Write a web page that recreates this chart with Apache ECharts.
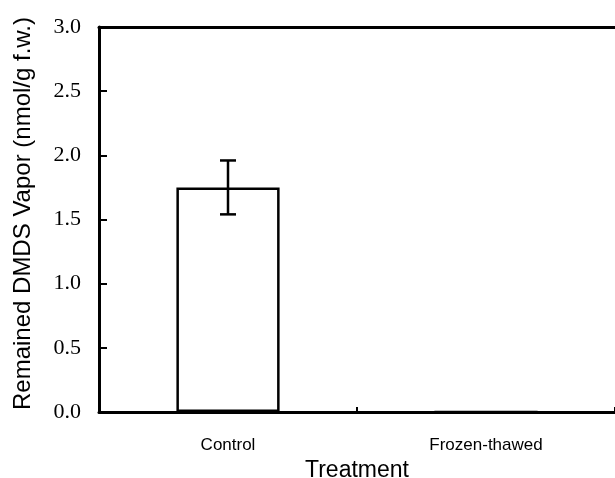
<!DOCTYPE html>
<html><head><meta charset="utf-8">
<script src="https://cdn.jsdelivr.net/npm/echarts@6/dist/echarts.min.js"></script>
<style>html,body{margin:0;padding:0;background:#fff}#c{width:615px;height:478px}</style>
</head><body><div id="c"></div>
<script>
const categories = ['Control', 'Frozen-thawed'];
const means = [1.75, 0];
const errors = [0.21, 0];
const yTicks = ['0.0','0.5','1.0','1.5','2.0','2.5','3.0'];

const chart = echarts.init(document.getElementById('c'), null, {renderer: 'canvas'});
const errData = categories.map((c, i) => [i, means[i] - errors[i], means[i] + errors[i]]).filter((d, i) => errors[i] > 0);

chart.setOption({
  animation: false,
  backgroundColor: '#fff',
  grid: {left: 99, right: 0, top: 27, bottom: 66, containLabel: false, outerBoundsMode: 'none'},
  xAxis: [{
    type: 'category', data: categories, position: 'bottom',
    axisLine: {lineStyle: {color: '#000', width: 3}},
    axisTick: {show: true, inside: true, length: 5, lineStyle: {color: '#000', width: 2}},
    axisLabel: {color: '#000', fontFamily: 'Liberation Sans', fontSize: 17, margin: 25},
    name: 'Treatment', nameLocation: 'middle', nameGap: 47,
    nameTextStyle: {color: '#000', fontFamily: 'Liberation Sans', fontSize: 23}
  }, {
    type: 'category', data: categories, position: 'top',
    axisLine: {lineStyle: {color: '#000', width: 3}},
    axisTick: {show: false}, axisLabel: {show: false}
  }],
  yAxis: {
    type: 'value', min: 0, max: 3, interval: 0.5,
    axisLine: {show: true, lineStyle: {color: '#000', width: 3}},
    axisTick: {show: true, inside: true, length: 8, lineStyle: {color: '#000', width: 2}},
    splitLine: {show: false},
    axisLabel: {color: '#000', fontFamily: 'Liberation Serif', fontSize: 22, margin: 18,
      formatter: (v) => yTicks[Math.round(v / 0.5)]},
    name: 'Remained DMDS Vapor (nmol/g f.w.)', nameLocation: 'middle', nameGap: 64,
    nameTextStyle: {color: '#000', fontFamily: 'Liberation Sans', fontSize: 24, padding: [0, 0, 0, 12]}
  },
  series: [{
    type: 'bar', data: means, barWidth: '40%',
    itemStyle: {color: '#fff', borderColor: '#000', borderWidth: 2.5}
  }, {
    type: 'custom', data: errData, z: 10,
    renderItem: function (params, api) {
      const x = api.value(0);
      const lo = api.coord([x, api.value(1)]);
      const hi = api.coord([x, api.value(2)]);
      const w = 8;
      const st = {stroke: '#000', lineWidth: 2.5};
      return {type: 'group', children: [
        {type: 'line', shape: {x1: lo[0], y1: lo[1], x2: hi[0], y2: hi[1]}, style: st},
        {type: 'line', shape: {x1: lo[0] - w, y1: lo[1], x2: lo[0] + w, y2: lo[1]}, style: st},
        {type: 'line', shape: {x1: hi[0] - w, y1: hi[1], x2: hi[0] + w, y2: hi[1]}, style: st}
      ]};
    }
  }]
});
</script></body></html>
